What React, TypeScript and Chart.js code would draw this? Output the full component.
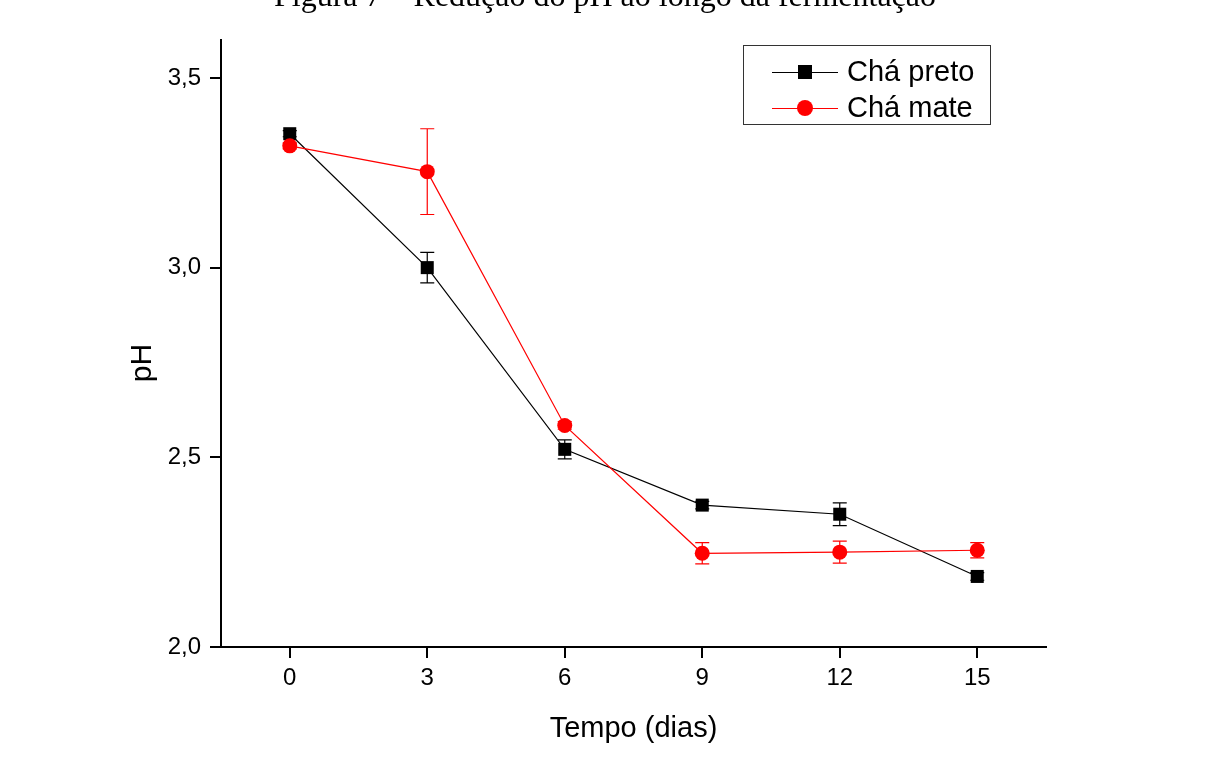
import { useEffect, useRef } from "react";
import { Chart, registerables } from "chart.js";

Chart.register(...registerables);

// ---- data ----
const days = [0, 3, 6, 9, 12, 15];
const xTickValues = [0, 3, 6, 9, 12, 15];
const yTickValues = [2.0, 2.5, 3.0, 3.5];
const pretoLabel = "Chá preto";
const mateLabel = "Chá mate";
const pretoPH = [3.353, 3.0, 2.521, 2.374, 2.35, 2.186];
const pretoErr = [0.008, 0.04, 0.025, 0.01, 0.03, 0.01];
const matePH = [3.321, 3.253, 2.584, 2.247, 2.25, 2.255];
const mateErr = [0.008, 0.113, 0.01, 0.028, 0.029, 0.02];
const figureTitle = "Figura 7 – Redução do pH ao longo da fermentação";
const xTitle = "Tempo (dias)";
const yTitle = "pH";

const RED = "#ff0000";
const BLACK = "#000000";
const SANS = "'Liberation Sans', Arial, sans-serif";

const errorBarPlugin = {
  id: "errorBars",
  beforeDatasetsDraw(chart: any) {
    const ctx = chart.ctx;
    const xs = chart.scales.x;
    const ys = chart.scales.y;
    chart.data.datasets.forEach((ds: any) => {
      const errs: number[] = ds.errors || [];
      ctx.save();
      ctx.strokeStyle = ds.borderColor;
      ctx.lineWidth = 1.2;
      ds.data.forEach((p: any, i: number) => {
        const e = errs[i] || 0;
        const x = xs.getPixelForValue(p.x);
        const yTop = ys.getPixelForValue(p.y + e);
        const yBot = ys.getPixelForValue(p.y - e);
        const cap = 7;
        ctx.beginPath();
        ctx.moveTo(x, yTop);
        ctx.lineTo(x, yBot);
        ctx.moveTo(x - cap, yTop);
        ctx.lineTo(x + cap, yTop);
        ctx.moveTo(x - cap, yBot);
        ctx.lineTo(x + cap, yBot);
        ctx.stroke();
      });
      ctx.restore();
    });
  },
};

const decorPlugin = {
  id: "decor",
  afterDraw(chart: any) {
    const ctx = chart.ctx;
    const area = chart.chartArea;
    ctx.save();
    // figure title (cut off at the top of the page)
    ctx.fillStyle = BLACK;
    ctx.font = "32px 'Liberation Serif', 'Times New Roman', serif";
    ctx.textAlign = "center";
    ctx.textBaseline = "alphabetic";
    ctx.fillText(figureTitle, 605, 6);

    // axis titles
    ctx.font = `29px ${SANS}`;
    ctx.textAlign = "center";
    ctx.textBaseline = "alphabetic";
    ctx.fillText(xTitle, (area.left + area.right) / 2, 737);
    ctx.save();
    ctx.font = `30px ${SANS}`;
    ctx.translate(151, 363);
    ctx.rotate(-Math.PI / 2);
    ctx.textBaseline = "alphabetic";
    ctx.fillText(yTitle, 0, 0);
    ctx.restore();

    // legend
    ctx.strokeStyle = "#333";
    ctx.lineWidth = 1;
    ctx.strokeRect(743.5, 45.5, 247, 79);
    const rows = [
      { label: pretoLabel, color: BLACK, style: "rect", y: 72 },
      { label: mateLabel, color: RED, style: "circle", y: 108 },
    ];
    rows.forEach((r) => {
      ctx.strokeStyle = r.color;
      ctx.lineWidth = 1.2;
      ctx.beginPath();
      ctx.moveTo(772, r.y + 0.5);
      ctx.lineTo(838, r.y + 0.5);
      ctx.stroke();
      ctx.fillStyle = r.color;
      if (r.style === "rect") {
        ctx.fillRect(805 - 7, r.y - 7, 14, 14);
      } else {
        ctx.beginPath();
        ctx.arc(805, r.y, 8, 0, Math.PI * 2);
        ctx.fill();
      }
      ctx.fillStyle = BLACK;
      ctx.font = `29px ${SANS}`;
      ctx.textAlign = "left";
      ctx.textBaseline = "middle";
      ctx.fillText(r.label, 847, r.y + 1);
    });
    ctx.restore();
  },
};

export default function App() {
  const ref = useRef<HTMLCanvasElement>(null);

  useEffect(() => {
    if (!ref.current) return;
    const chart = new Chart(ref.current, {
      type: "line",
      data: {
        datasets: [
          {
            label: mateLabel,
            data: days.map((d, i) => ({ x: d, y: matePH[i] })),
            errors: mateErr,
            borderColor: RED,
            backgroundColor: RED,
            borderWidth: 1.2,
            pointStyle: "circle",
            pointRadius: 7.5,
            pointBorderWidth: 0,
            order: 0,
          } as any,
          {
            label: pretoLabel,
            data: days.map((d, i) => ({ x: d, y: pretoPH[i] })),
            errors: pretoErr,
            borderColor: BLACK,
            backgroundColor: BLACK,
            borderWidth: 1.2,
            pointStyle: "rect",
            pointRadius: 9.2,
            pointBorderWidth: 0,
            order: 1,
          } as any,
        ],
      },
      options: {
        responsive: false,
        animation: false,
        events: [],
        layout: { padding: { top: 40, right: 161, left: 0, bottom: 0 } },
        plugins: {
          legend: { display: false },
          tooltip: { enabled: false },
          title: { display: false },
        },
        scales: {
          x: {
            type: "linear",
            min: -1.5,
            max: 16.5,
            afterBuildTicks: (s: any) => {
              s.ticks = xTickValues.map((v) => ({ value: v }));
            },
            afterFit: (s: any) => {
              s.height = 133;
            },
            border: { display: true, color: BLACK, width: 2 },
            grid: {
              display: true,
              drawOnChartArea: false,
              drawTicks: true,
              tickLength: 11,
              color: BLACK,
              lineWidth: 2,
            },
            ticks: {
              color: BLACK,
              font: { size: 24, family: SANS },
              padding: 6,
              maxRotation: 0,
              callback: (v: any) => String(v),
            },
          },
          y: {
            type: "linear",
            min: 2.0,
            max: 3.6,
            afterBuildTicks: (s: any) => {
              s.ticks = yTickValues.map((v) => ({ value: v }));
            },
            afterFit: (s: any) => {
              s.width = 221;
            },
            border: { display: true, color: BLACK, width: 2 },
            grid: {
              display: true,
              drawOnChartArea: false,
              drawTicks: true,
              tickLength: 11,
              color: BLACK,
              lineWidth: 2,
            },
            ticks: {
              color: BLACK,
              font: { size: 24, family: SANS },
              padding: 9,
              callback: (v: any) => Number(v).toFixed(1).replace(".", ","),
            },
          },
        },
      } as any,
      plugins: [errorBarPlugin, decorPlugin],
    });
    return () => chart.destroy();
  }, []);

  return (
    <div style={{ position: "absolute", left: 0, top: 0, width: 1207, height: 780, background: "#fff" }}>
      <canvas ref={ref} width={1207} height={780} />
    </div>
  );
}
